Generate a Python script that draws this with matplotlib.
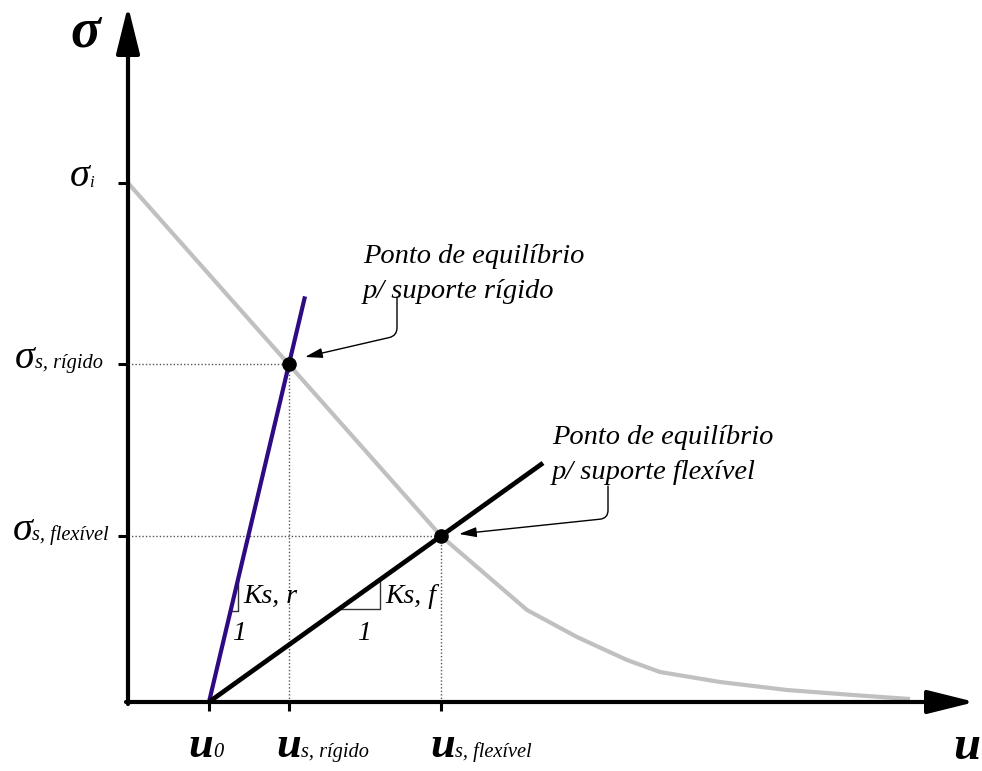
import numpy as np
import matplotlib.pyplot as plt

plt.rcParams['font.family'] = ['Liberation Serif', 'DejaVu Serif']

# ---------------------------------------------------------
# dados do diagrama (unidades arbitrárias)
# ---------------------------------------------------------
u0 = 0.81
u_s_rig = 1.61
u_s_flex = 3.13
sig_i = 5.19
sig_s_rig = 3.38
sig_s_flex = 1.66

# curva característica do maciço
u_curve = [0.0, 3.13, 3.99, 4.49, 4.99, 5.32, 5.92, 6.59, 7.25, 7.82]
sig_curve = [5.19, 1.66, 0.92, 0.65, 0.42, 0.30, 0.20, 0.12, 0.07, 0.03]

# extremos das retas dos suportes
u_end_rig = 1.77
u_end_flex = 4.15

# rigidezes (inclinação das retas)
k_rig = sig_s_rig / (u_s_rig - u0)
k_flex = sig_s_flex / (u_s_flex - u0)

fig = plt.figure(figsize=(9.82, 7.71), dpi=100)
ax = fig.add_axes([0, 0, 1, 1])
ax.set_xlim(-1.28, 8.54)
ax.set_ylim(-0.69, 7.02)
ax.axis('off')

ax.plot(u_curve, sig_curve, color='#c0c0c0', lw=3, solid_capstyle='butt', zorder=2)

# linhas pontilhadas de referência
dots = dict(color='#555555', lw=1.0, linestyle=(0, (1, 1.5)), zorder=1)
for us, ss in [(u_s_rig, sig_s_rig), (u_s_flex, sig_s_flex)]:
    ax.plot([0, us], [ss, ss], **dots)
    ax.plot([us, us], [0, ss], **dots)

# retas dos suportes
ax.plot([u0, u_end_rig], [0, k_rig * (u_end_rig - u0)], color='#2e0b82', lw=3,
        solid_capstyle='butt', zorder=3)
ax.plot([u0, u_end_flex], [0, k_flex * (u_end_flex - u0)], color='black', lw=3.4,
        solid_capstyle='butt', zorder=3)

# pontos de equilíbrio
ax.plot([u_s_rig, u_s_flex], [sig_s_rig, sig_s_flex], 'o', color='black', ms=9.5, zorder=5)

# triângulos de inclinação
for sb, run, k in [(0.91, 0.075, k_rig), (0.93, 0.41, k_flex)]:
    ub = u0 + sb / k
    ax.plot([ub, ub + run, ub + run], [sb, sb, sb + k * run], color='#333333', lw=1.0, zorder=2)

tri_style = dict(fontsize=20, style='italic', va='baseline', ha='left')
ax.text(1.15, 0.99, 'Ks, r', **tri_style)
ax.text(1.04, 0.62, '1', **tri_style)
ax.text(2.57, 0.99, 'Ks, f', **tri_style)
ax.text(2.29, 0.62, '1', **tri_style)

# eixos com setas
axis_arrow = dict(arrowstyle='-|>,head_length=1.45,head_width=0.36', mutation_scale=20,
                  lw=3, color='black', shrinkA=0, shrinkB=0)
ax.annotate('', xy=(8.47, 0), xytext=(-0.02, 0), arrowprops=axis_arrow, zorder=6)
ax.annotate('', xy=(0, 6.96), xytext=(0, -0.02), arrowprops=axis_arrow, zorder=6)

# marcas nos eixos
for s in [sig_i, sig_s_rig, sig_s_flex]:
    ax.plot([-0.10, 0], [s, s], color='black', lw=2.2, solid_capstyle='butt', zorder=6)
for u in [u0, u_s_rig, u_s_flex]:
    ax.plot([u, u], [0, -0.09], color='black', lw=2.2, solid_capstyle='butt', zorder=6)

ax.text(-0.58, 6.55, 'σ', fontsize=40, fontweight='bold', style='italic',
        ha='left', va='baseline')
ax.text(8.52, -0.57, 'u', fontsize=35, fontweight='bold', style='italic',
        ha='right', va='baseline')

# rótulos do eixo u
u_lab_x = [0.60, 1.48, 3.02]
u_lab_sub = ['0', 's, rígido', 's, flexível']
for x, sub in zip(u_lab_x, u_lab_sub):
    t = ax.text(x, -0.55, 'u', fontsize=32, fontweight='bold', style='italic',
                ha='left', va='baseline')
    ax.annotate(sub, xy=(1, 0), xycoords=t, xytext=(0, 3), textcoords='offset points',
                fontsize=14.7, style='italic', ha='left', va='bottom')

# rótulos do eixo sigma
sig_lab = [(-0.34, 5.15, 'i', 12), (-0.25, 3.34, 's, rígido', 14.7),
           (-0.19, 1.62, 's, flexível', 14.7)]
for x, y, sub, fs in sig_lab:
    t = ax.text(x, y, sub, fontsize=fs, style='italic', ha='right', va='baseline')
    ax.annotate('σ', xy=(0, 0), xycoords=t, xytext=(0, -3), textcoords='offset points',
                fontsize=29, style='italic', ha='right', va='bottom')

# chamadas dos pontos de equilíbrio
note_style = dict(fontsize=20.5, style='italic', ha='left', va='top', linespacing=1.55)
ax.text(2.35, 4.58, 'Ponto de equilíbrio\np/ suporte rígido', **note_style)
ax.text(4.24, 2.77, 'Ponto de equilíbrio\np/ suporte flexível', **note_style)

call = dict(arrowstyle='-|>,head_length=0.7,head_width=0.2', mutation_scale=15,
            lw=1.0, color='black', shrinkA=0, shrinkB=0)
ax.annotate('', xy=(1.77, 3.45), xytext=(2.69, 4.05),
            arrowprops=dict(call, connectionstyle='angle,angleA=90,angleB=13,rad=8'))
ax.annotate('', xy=(3.31, 1.68), xytext=(4.80, 2.16),
            arrowprops=dict(call, connectionstyle='angle,angleA=90,angleB=6,rad=8'))

fig.savefig('out.png', dpi=100)
